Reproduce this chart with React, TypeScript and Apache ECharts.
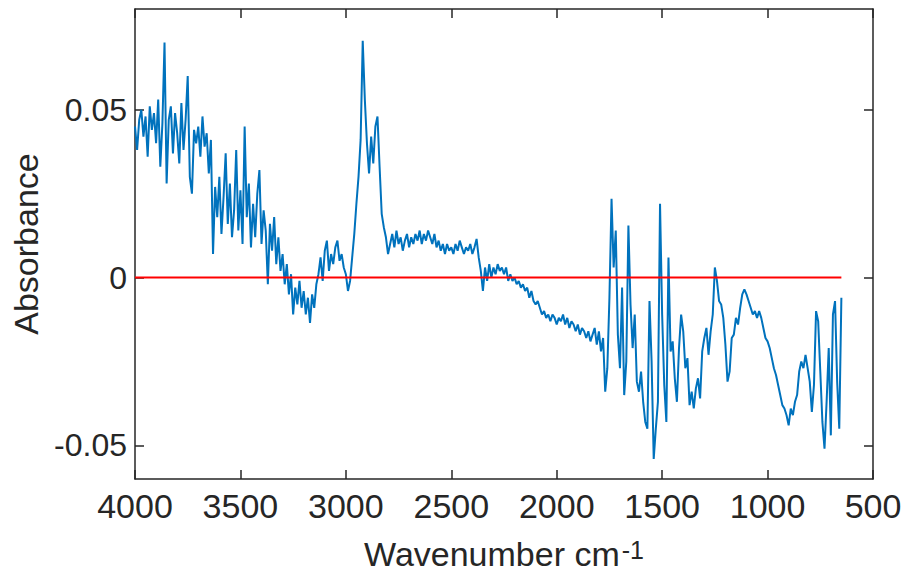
import React, { useEffect, useRef } from "react";
import * as echarts from "echarts";

// Sampling grid of the spectrum (cm-1)
const WN_START = 4000;
const WN_STEP = -10;

// Absorbance, one value per sample from 4000 cm-1 down to 650 cm-1
const absorbance: number[] = [
  0.045, 0.038, 0.047, 0.050, 0.042, 0.048, 0.036, 0.051, 0.044, 0.049,
  0.040, 0.053, 0.033, 0.046, 0.070, 0.028, 0.047, 0.051, 0.037, 0.049,
  0.043, 0.034, 0.052, 0.038, 0.047, 0.060, 0.030, 0.025, 0.044, 0.040,
  0.045, 0.036, 0.048, 0.039, 0.043, 0.031, 0.041, 0.007, 0.027, 0.018,
  0.030, 0.013, 0.024, 0.037, 0.016, 0.028, 0.012, 0.020, 0.038, 0.014,
  0.026, 0.010, 0.045, 0.018, 0.028, 0.009, 0.022, 0.012, 0.025, 0.032,
  0.010, 0.020, 0.014, -0.002, 0.016, 0.008, 0.018, 0.004, 0.012, 0.002,
  0.007, -0.002, 0.004, -0.005, 0.001, -0.011, -0.003, -0.008, -0.001, -0.009,
  -0.004, -0.011, -0.006, -0.0135, -0.005, -0.009, -0.002, 0.001, 0.006, -0.001,
  0.008, 0.011, 0.002, 0.007, 0.004, 0.009, 0.011, 0.005, 0.007, 0.003,
  0.001, -0.004, -0.001, 0.006, 0.013, 0.022, 0.030, 0.041, 0.0705, 0.053,
  0.040, 0.031, 0.042, 0.034, 0.045, 0.048, 0.033, 0.019, 0.015, 0.012,
  0.007, 0.010, 0.013, 0.009, 0.014, 0.010, 0.012, 0.008, 0.011, 0.013,
  0.009, 0.012, 0.010, 0.013, 0.011, 0.014, 0.010, 0.013, 0.011, 0.014,
  0.012, 0.010, 0.013, 0.009, 0.011, 0.008, 0.010, 0.007, 0.010, 0.008,
  0.009, 0.007, 0.010, 0.008, 0.011, 0.009, 0.007, 0.009, 0.008, 0.010,
  0.007, 0.009, 0.0115, 0.006, 0.002, -0.004, 0.003, -0.001, 0.004, 0.000,
  0.003, 0.001, 0.004, 0.002, 0.003, 0.001, 0.003, -0.001, 0.001, -0.001,
  0.000, -0.002, -0.001, -0.003, -0.002, -0.004, -0.003, -0.006, -0.004, -0.007,
  -0.008, -0.007, -0.009, -0.011, -0.010, -0.012, -0.011, -0.013, -0.011, -0.012,
  -0.014, -0.012, -0.013, -0.011, -0.014, -0.012, -0.015, -0.013, -0.014, -0.016,
  -0.014, -0.017, -0.015, -0.016, -0.018, -0.016, -0.019, -0.017, -0.015, -0.020,
  -0.016, -0.022, -0.018, -0.034, -0.027, -0.006, 0.0235, 0.003, 0.014, -0.017,
  -0.027, -0.003, -0.035, -0.025, 0.0155, -0.008, -0.021, -0.011, -0.031, -0.034,
  -0.028, -0.037, -0.043, -0.045, -0.007, -0.025, -0.054, -0.045, -0.037, 0.022,
  -0.011, -0.032, -0.043, 0.006, -0.022, -0.019, -0.030, -0.037, -0.021, -0.011,
  -0.016, -0.027, -0.024, -0.038, -0.034, -0.039, -0.033, -0.030, -0.036, -0.022,
  -0.018, -0.015, -0.023, -0.016, -0.011, 0.003, -0.001, -0.007, -0.008, -0.012,
  -0.020, -0.031, -0.028, -0.018, -0.017, -0.012, -0.014, -0.009, -0.005, -0.0035,
  -0.005, -0.007, -0.009, -0.011, -0.010, -0.012, -0.010, -0.012, -0.015, -0.018,
  -0.019, -0.021, -0.024, -0.027, -0.029, -0.032, -0.035, -0.038, -0.039, -0.041,
  -0.044, -0.039, -0.041, -0.037, -0.035, -0.028, -0.025, -0.027, -0.023, -0.027,
  -0.031, -0.040, -0.032, -0.010, -0.013, -0.028, -0.043, -0.051, -0.037, -0.021,
  -0.047, -0.011, -0.007, -0.031, -0.045, -0.006,
];

// Zero reference line end points
const zeroLineX: number[] = [4000, 650];
const zeroLineY: number[] = [0, 0];

// Tick labels
const xTicks: number[] = [500, 1000, 1500, 2000, 2500, 3000, 3500, 4000];
const yTicks: number[] = [-0.05, 0, 0.05];

const TEXT = "#262626";
const FONT = "Liberation Sans, Arial, Helvetica, sans-serif";

export default function App() {
  const ref = useRef<HTMLDivElement>(null);

  useEffect(() => {
    if (!ref.current) return;
    const chart = echarts.init(ref.current, undefined, { renderer: "svg" });

    const spectrum = absorbance.map((v, i) => [WN_START + WN_STEP * i, v]);
    const zero = zeroLineX.map((x, i) => [x, zeroLineY[i]]);

    const axisLine = { show: true, onZero: false, lineStyle: { color: TEXT, width: 1.5 } };
    const tickStyle = { color: TEXT, width: 1.5 };

    const xBase = {
      type: "value" as const,
      min: xTicks[0],
      max: xTicks[xTicks.length - 1],
      interval: 500,
      inverse: true,
      axisLine,
      splitLine: { show: false },
      axisTick: { show: true, inside: true, length: 9, lineStyle: tickStyle },
    };

    const yBase = {
      type: "value" as const,
      min: -0.06,
      max: 0.08,
      axisLine,
      splitLine: { show: false },
      axisTick: {
        show: true,
        inside: true,
        length: 9,
        customValues: yTicks,
        lineStyle: tickStyle,
      },
    };

    chart.setOption({
      animation: false,
      backgroundColor: "#ffffff",
      grid: {
        left: 135,
        right: 31,
        top: 9,
        bottom: 98,
        containLabel: false,
        outerBoundsMode: "none",
      },
      xAxis: [
        {
          ...xBase,
          position: "bottom",
          name: "Wavenumber cm{sup|-1}",
          nameLocation: "middle",
          nameGap: 58,
          nameTextStyle: {
            color: TEXT,
            fontSize: 34,
            fontFamily: FONT,
            rich: {
              sup: {
                fontSize: 25,
                fontFamily: FONT,
                color: TEXT,
                verticalAlign: "top",
                lineHeight: 25,
                padding: [0, 0, 18, 2],
              },
            },
          },
          axisLabel: {
            show: true,
            color: TEXT,
            fontSize: 34,
            fontFamily: FONT,
            margin: 10,
            formatter: (v: number) => String(v),
          },
        },
        {
          ...xBase,
          position: "top",
          axisLabel: { show: false },
        },
      ],
      yAxis: [
        {
          ...yBase,
          position: "left",
          name: "Absorbance",
          nameLocation: "middle",
          nameGap: 88,
          nameRotate: 90,
          nameTextStyle: { color: TEXT, fontSize: 34, fontFamily: FONT },
          axisLabel: {
            show: true,
            color: TEXT,
            fontSize: 32,
            fontFamily: FONT,
            margin: 8,
            customValues: yTicks,
            formatter: (v: number) => String(v),
          },
        },
        {
          ...yBase,
          position: "right",
          axisLabel: { show: false },
        },
      ],
      series: [
        {
          type: "line",
          data: spectrum,
          showSymbol: false,
          symbol: "none",
          lineStyle: { color: "#0072BD", width: 2 },
          z: 2,
        },
        {
          type: "line",
          data: zero,
          showSymbol: false,
          symbol: "none",
          lineStyle: { color: "#FF0000", width: 2 },
          z: 3,
        },
      ],
    });

    return () => chart.dispose();
  }, []);

  return (
    <div
      ref={ref}
      style={{ position: "fixed", left: 0, top: 0, width: 904, height: 577, background: "#fff" }}
    />
  );
}
